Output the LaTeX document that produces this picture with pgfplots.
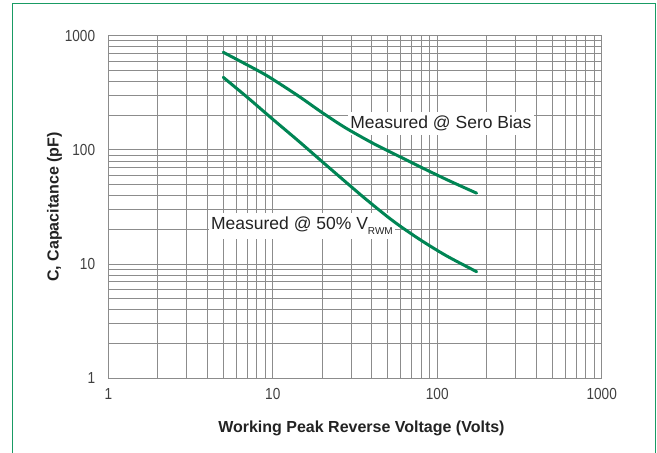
\documentclass[border=0pt]{standalone}
\usepackage{pgfplots}
\pgfplotsset{compat=1.18}
\usepackage{fontspec}
\setmainfont{Liberation Sans}
\newfontfamily\tickfont[FakeStretch=0.85]{Liberation Sans}
\definecolor{curvegreen}{RGB}{0,133,84}
\definecolor{framegreen}{RGB}{25,155,100}
\definecolor{gridgray}{RGB}{140,140,140}
\definecolor{txt}{RGB}{35,35,35}
\begin{document}
\begin{tikzpicture}
\useasboundingbox (0,0) rectangle (657pt,453pt);
\draw[framegreen, line width=1pt] (12pt,-5pt) -- (12pt,449pt) -- (655.5pt,449pt) -- (655.5pt,-5pt);
\begin{axis}[
  at={(108.3pt,74.7pt)}, anchor=south west,
  scale only axis, width=493.4pt, height=342.6pt,
  xmode=log, ymode=log,
  xmin=1, xmax=1000, ymin=1, ymax=1000,
  xtick={1,10,100,1000}, xticklabels={1,10,100,1000},
  ytick={1,10,100,1000}, yticklabels={1,10,100,1000},
  minor xtick={2,3,4,5,6,7,8,9,20,30,40,50,60,70,80,90,200,300,400,500,600,700,800,900},
  minor ytick={2,3,4,5,6,7,8,9,20,30,40,50,60,70,80,90,200,300,400,500,600,700,800,900},
  grid=both,
  major grid style={gridgray, line width=0.9pt},
  minor grid style={gridgray, line width=0.9pt},
  axis line style={gridgray, line width=0.9pt},
  major tick length=0pt, minor tick length=0pt,
  /pgf/number format/assume math mode=true,
  tick label style={font=\tickfont\fontsize{16}{18}\selectfont, text=black!75},
  xticklabel style={anchor=north, inner sep=0pt, yshift=-10pt},
  yticklabel style={anchor=east, inner sep=0pt, xshift=-13pt},
  xlabel={Working Peak Reverse Voltage (Volts)},
  ylabel={C, Capacitance (pF)},
  every axis x label/.style={at={(axis description cs:0.513,-0.157)}, anchor=base,
    font=\bfseries\fontsize{16}{19}\selectfont, text=txt},
  every axis y label/.style={at={(axis description cs:-0.109,0.5)}, rotate=90, anchor=center,
    font=\bfseries\fontsize{16}{19}\selectfont, text=txt},
  clip=false,
]
\node[fill=white, inner xsep=2.5pt, inner ysep=4pt, anchor=base, text=txt, font=\fontsize{17.5}{20}\selectfont]
  at (axis cs:105.3,154.6) {Measured @ Sero Bias};
\node[fill=white, inner xsep=2.5pt, inner ysep=4pt, anchor=base, text=txt, font=\fontsize{17.5}{20}\selectfont]
  at (axis cs:15.05,19.9) {Measured @ 50\% V\raisebox{-5pt}{\fontsize{10}{12}\selectfont RWM}};
\addplot[curvegreen, line width=3pt, smooth, tension=0.5, line cap=round] coordinates {
  (5.00,716) (8.16,493) (9.85,421) (14.3,297) (19.8,214) (27.5,157)
  (40.8,114) (59.3,87.1) (86.2,66.7) (119.5,53.3) (173.6,41.8)
};
\addplot[curvegreen, line width=3pt, smooth, tension=0.5, line cap=round] coordinates {
  (5.00,432) (7.10,284) (9.85,189) (14.3,120) (19.8,79.8) (27.5,53.0)
  (37.2,36.6) (54.0,23.8) (78.5,16.4) (114,11.8) (173.6,8.58)
};
\end{axis}
\end{tikzpicture}
\end{document}
